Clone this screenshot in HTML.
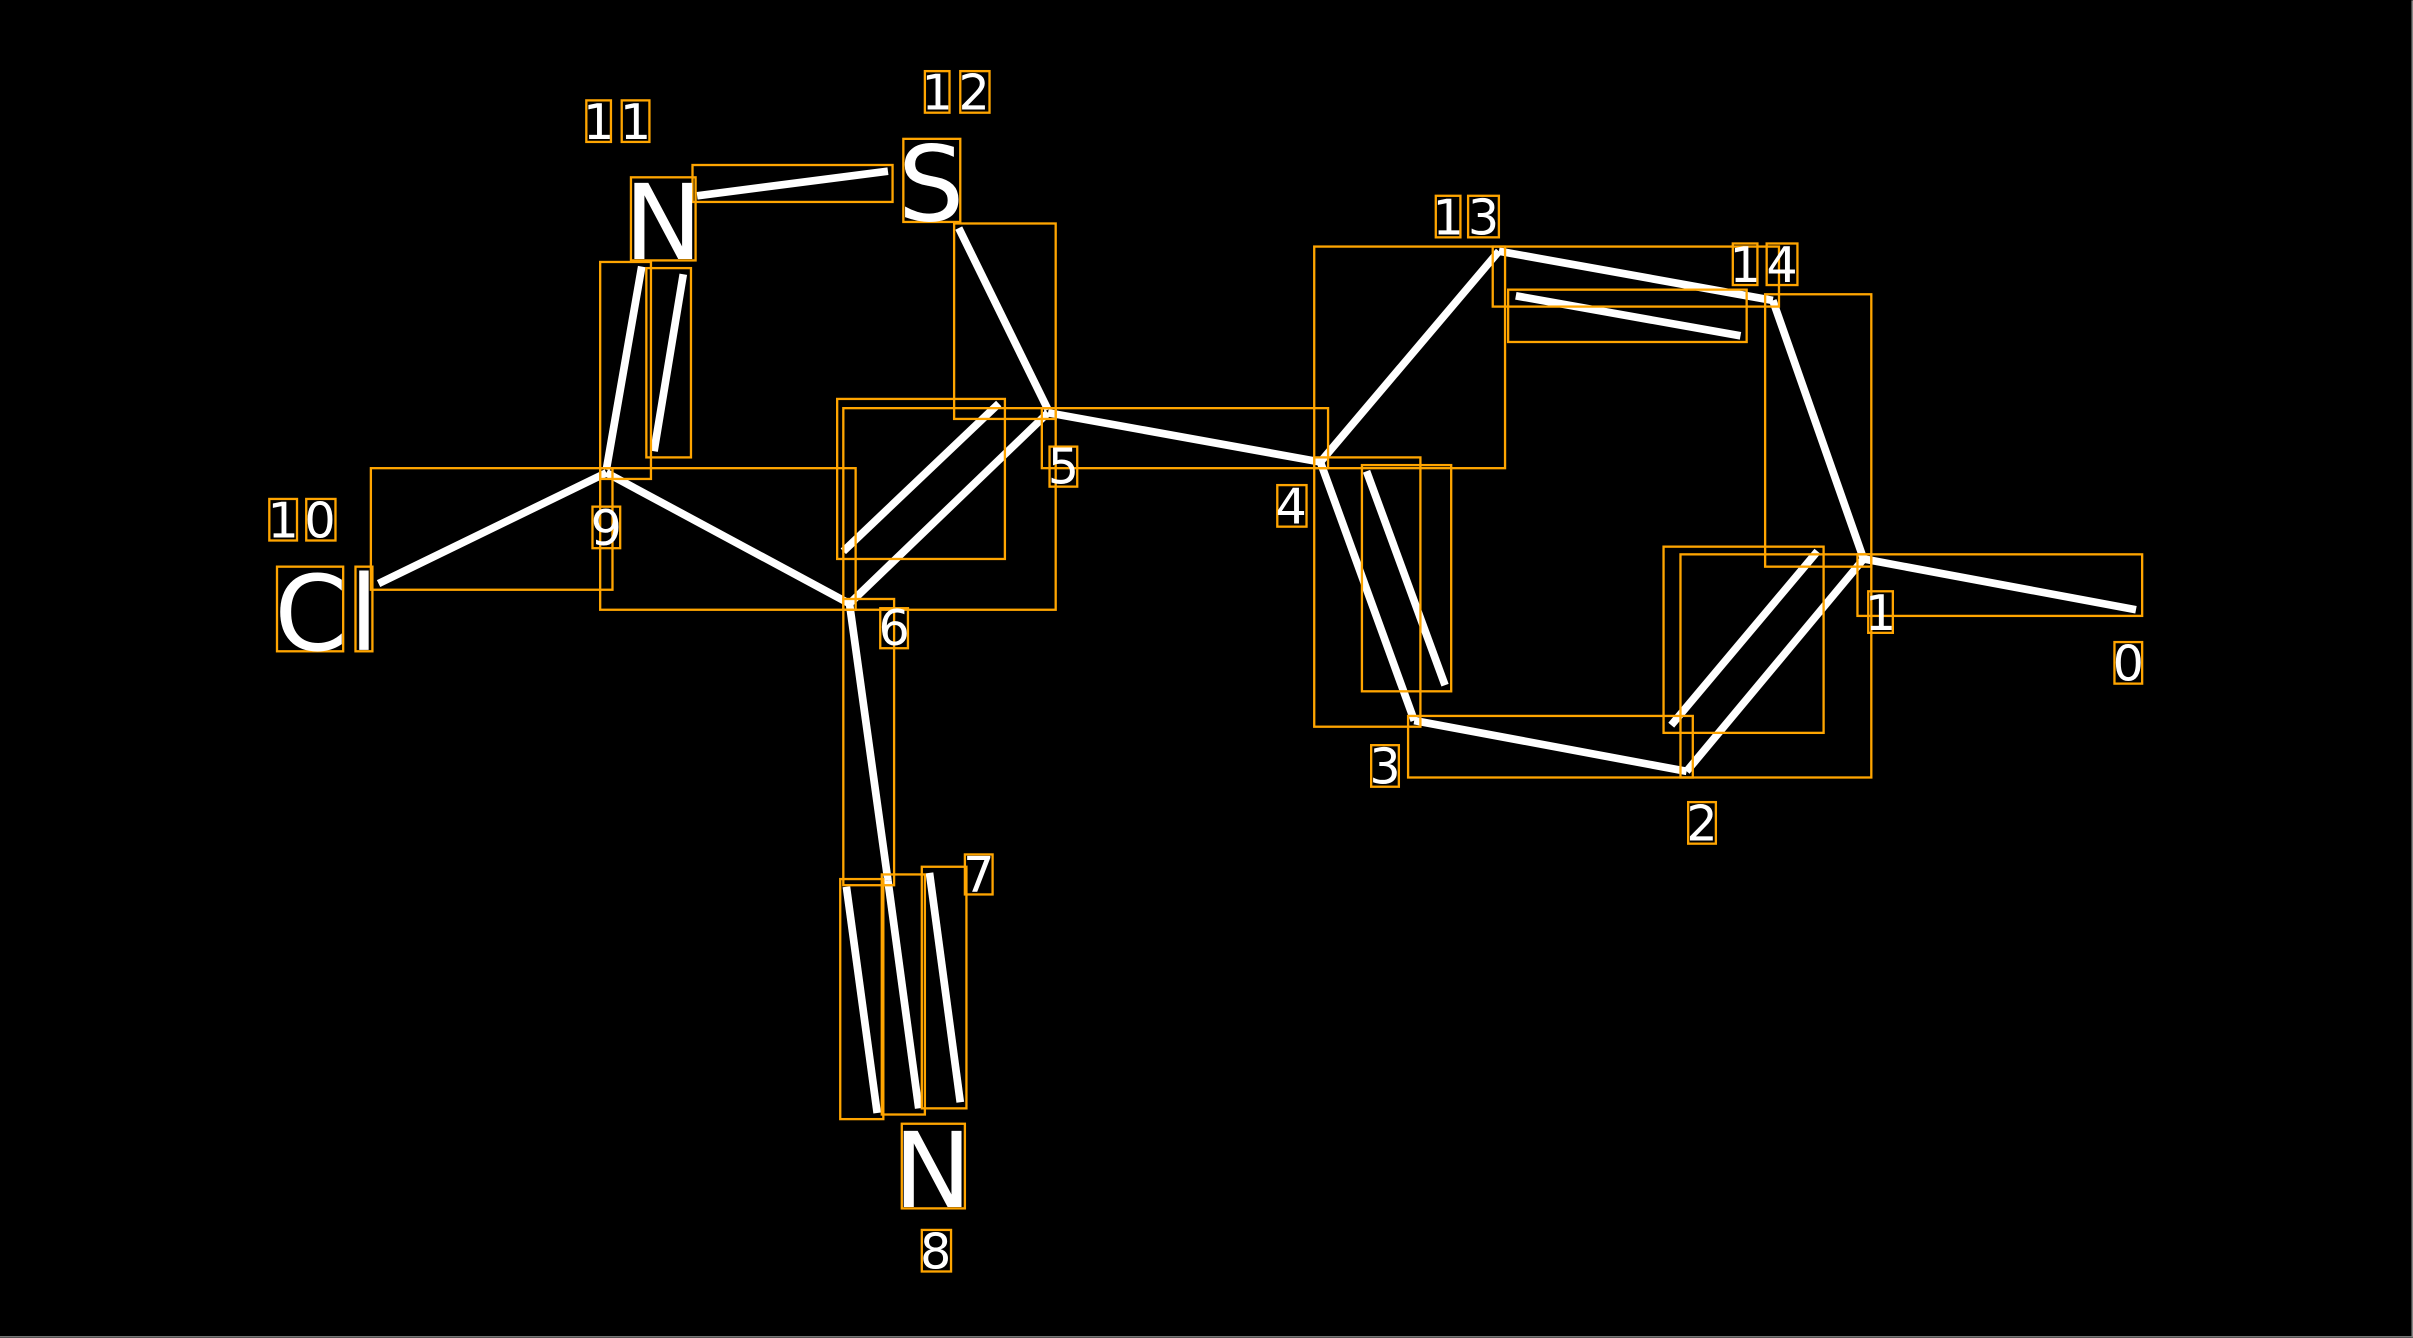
<!DOCTYPE html>
<html><head><meta charset="utf-8"><style>
html,body{margin:0;padding:0;background:#000;}
svg{display:block;}
</style></head><body>
<svg width="2413" height="1338" viewBox="0 0 1568 869" xmlns="http://www.w3.org/2000/svg" font-family="DejaVu Sans, sans-serif">
<rect x="0" y="0" width="1568" height="869" fill="#000"/>
<line x1="1567.5" y1="0" x2="1567.5" y2="869" stroke="#888" stroke-width="1"/>
<line x1="0" y1="868.5" x2="1568" y2="868.5" stroke="#888" stroke-width="1"/>
<g stroke="#fff" stroke-width="5" stroke-linecap="butt">
<line x1="453" y1="127" x2="577" y2="111"/>
<line x1="623" y1="148" x2="681" y2="266"/>
<line x1="394" y1="305" x2="417" y2="173"/>
<line x1="425" y1="293" x2="444" y2="178"/>
<line x1="246" y1="379" x2="394" y2="307"/>
<line x1="394" y1="307" x2="552" y2="392"/>
<line x1="552" y1="392" x2="681" y2="268"/>
<line x1="548" y1="358" x2="649" y2="262"/>
<line x1="681" y1="268" x2="858" y2="300"/>
<line x1="858" y1="300" x2="974" y2="163"/>
<line x1="974" y1="163" x2="1152" y2="195"/>
<line x1="985" y1="192" x2="1131" y2="218"/>
<line x1="1152" y1="195" x2="1211" y2="363"/>
<line x1="1211" y1="363" x2="1388" y2="396"/>
<line x1="1211" y1="363" x2="1096" y2="501"/>
<line x1="1086" y1="471" x2="1181" y2="358"/>
<line x1="1096" y1="501" x2="919" y2="468"/>
<line x1="919" y1="468" x2="858" y2="300"/>
<line x1="888" y1="306" x2="939" y2="445"/>
<line x1="552" y1="392" x2="577" y2="572"/>
<line x1="550" y1="576" x2="570" y2="723"/>
<line x1="577" y1="572" x2="597" y2="720"/>
<line x1="604" y1="567" x2="624" y2="716"/>
</g>
<g fill="none" stroke="#FFA500" stroke-width="1.5">
<rect x="450" y="107" width="130" height="24"/>
<rect x="620" y="145" width="66" height="127"/>
<rect x="390" y="170" width="33" height="141"/>
<rect x="420" y="174" width="29" height="123"/>
<rect x="241" y="304" width="157" height="79"/>
<rect x="390" y="304" width="166" height="92"/>
<rect x="548" y="265" width="138" height="131"/>
<rect x="544" y="259" width="109" height="104"/>
<rect x="677" y="265" width="186" height="39"/>
<rect x="854" y="160" width="124" height="144"/>
<rect x="970" y="160" width="186" height="39"/>
<rect x="980" y="188" width="155" height="34"/>
<rect x="1147" y="191" width="69" height="177"/>
<rect x="1207" y="360" width="185" height="40"/>
<rect x="1092" y="360" width="124" height="145"/>
<rect x="1081" y="355" width="104" height="121"/>
<rect x="915" y="465" width="185" height="40"/>
<rect x="854" y="297" width="69" height="175"/>
<rect x="885" y="302" width="58" height="147"/>
<rect x="548" y="389" width="33" height="186"/>
<rect x="546" y="571" width="28" height="156"/>
<rect x="573" y="568" width="28" height="156"/>
<rect x="599" y="563" width="29" height="157"/>
<rect x="410" y="115" width="42" height="54"/>
<rect x="587" y="90" width="37" height="54"/>
<rect x="180" y="368" width="43" height="55"/>
<rect x="231" y="368" width="11" height="55"/>
<rect x="586" y="730" width="41" height="55"/>
<rect x="381" y="65" width="16" height="27"/><rect x="404" y="65" width="18" height="27"/>
<rect x="601" y="46" width="16" height="27"/><rect x="624" y="46" width="19" height="27"/>
<rect x="175" y="324" width="18" height="27"/><rect x="199" y="324" width="19" height="27"/>
<rect x="385" y="329" width="18" height="27"/>
<rect x="572" y="395" width="18" height="26"/>
<rect x="682" y="290" width="18" height="26"/>
<rect x="830" y="315" width="19" height="27"/>
<rect x="933" y="127" width="16" height="27"/><rect x="954" y="127" width="20" height="27"/>
<rect x="1126" y="158" width="16" height="27"/><rect x="1148" y="158" width="20" height="27"/>
<rect x="1214" y="384" width="16" height="27"/>
<rect x="1374" y="417" width="18" height="27"/>
<rect x="891" y="484" width="18" height="27"/>
<rect x="1097" y="521" width="18" height="27"/>
<rect x="627" y="555" width="18" height="26"/>
<rect x="599" y="799" width="19" height="27"/>
</g>
<g fill="#fff" text-anchor="middle">
<text x="431" y="168" font-size="68">N</text>
<text x="605" y="143" font-size="68">S</text>
<text x="202" y="422" font-size="68">C</text>
<text x="236.5" y="422" font-size="68">l</text>
<text x="606" y="784" font-size="68">N</text>
<g font-size="32">
<text x="389" y="90">1</text><text x="413" y="90">1</text>
<text x="609" y="71">1</text><text x="633" y="71">2</text>
<text x="184" y="349">1</text><text x="208" y="349">0</text>
<text x="394" y="354">9</text>
<text x="581" y="419">6</text>
<text x="691" y="314">5</text>
<text x="839" y="340">4</text>
<text x="941" y="152">1</text><text x="964" y="152">3</text>
<text x="1134" y="183">1</text><text x="1158" y="183">4</text>
<text x="1222" y="409">1</text>
<text x="1383" y="442">0</text>
<text x="900" y="509">3</text>
<text x="1106" y="546">2</text>
<text x="636" y="579">7</text>
<text x="608" y="824">8</text>
</g>
</g>
</svg>
</body></html>
